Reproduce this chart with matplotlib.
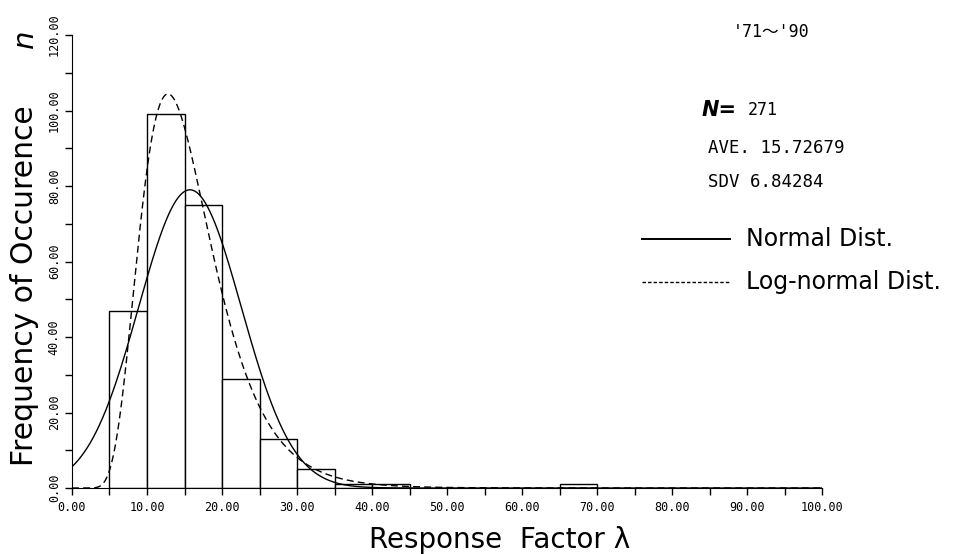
import numpy as np
import matplotlib
matplotlib.use("Agg")
import matplotlib.pyplot as plt

# histogram data (bin width 5)
bin_left = [5, 10, 15, 20, 25, 30, 35, 40, 65]
counts = [47, 99, 75, 29, 13, 5, 1, 1, 1]
bin_width = 5

n_total = 271
ave = 15.72679
sdv = 6.84284
# log-normal fit parameters (of ln x)
ln_mu = 2.691
ln_sig = 0.377

x_ticks = [0, 10, 20, 30, 40, 50, 60, 70, 80, 90, 100]
y_ticks = [0, 20, 40, 60, 80, 100, 120]

mono = 'DejaVu Sans Mono'

fig = plt.figure(figsize=(9.57, 5.54), dpi=100)
ax = fig.add_axes([0.0752, 0.1191, 0.784, 0.8177])

ax.bar(bin_left, counts, width=bin_width, align='edge', facecolor='white',
       edgecolor='black', linewidth=1.0)

x = np.linspace(0.01, 100, 2000)
normal = n_total * bin_width * np.exp(-0.5 * ((x - ave) / sdv) ** 2) / (sdv * np.sqrt(2 * np.pi))
lognorm = n_total * bin_width * np.exp(-0.5 * ((np.log(x) - ln_mu) / ln_sig) ** 2) / (x * ln_sig * np.sqrt(2 * np.pi))
ax.plot(x, normal, color='black', lw=1.0)
ax.plot(x, lognorm, color='black', lw=1.0, ls=(0, (5, 3)))

ax.set_xlim(0, 100)
ax.set_ylim(0, 120)
for s in ['top', 'right']:
    ax.spines[s].set_visible(False)

ax.set_xticks(x_ticks)
ax.set_xticks(np.arange(0, 101, 5), minor=True)
ax.set_xticklabels([f"{v:.2f}" for v in x_ticks], family=mono, fontsize=8.5)
ax.set_yticks(y_ticks)
ax.set_yticks(np.arange(0, 121, 10), minor=True)
ax.set_yticklabels([f"{v:.2f}" for v in y_ticks], family=mono,
                   fontsize=8.5, rotation=90, va='center')
ax.tick_params(which='both', direction='out', length=5, width=1.0, colors='black')
ax.tick_params(axis='x', pad=4)
ax.tick_params(axis='y', pad=3)

fig.text(0.522, 0.026, "Response  Factor λ", ha='center', va='center', fontsize=20)
fig.text(0.026, 0.485, "Frequency of Occurence", ha='center', va='center',
         rotation=90, fontsize=21.5)
fig.text(0.026, 0.93, "n", ha='center', va='center', rotation=90, fontsize=21,
         style='italic')

fig.text(0.766, 0.942, "'71～'90", family=[mono, 'Noto Sans CJK JP'],
         fontsize=12, va='center')
fig.text(0.733, 0.801, "N=", fontsize=15, style='italic', weight='bold', va='center')
fig.text(0.781, 0.801, "271", family=mono, fontsize=12, va='center')
fig.text(0.740, 0.733, "AVE. 15.72679", family=mono, fontsize=12.5, va='center')
fig.text(0.740, 0.671, "SDV 6.84284", family=mono, fontsize=12.5, va='center')

fig.add_artist(plt.Line2D([0.671, 0.763], [0.568, 0.568], color='black', lw=1.4))
fig.add_artist(plt.Line2D([0.671, 0.763], [0.491, 0.491], color='black', lw=1.0,
                          ls=(0, (2.5, 1.5))))
fig.text(0.780, 0.568, "Normal Dist.", fontsize=17, va='center')
fig.text(0.780, 0.491, "Log-normal Dist.", fontsize=17, va='center')

fig.savefig("out.png", dpi=100, facecolor='white')
